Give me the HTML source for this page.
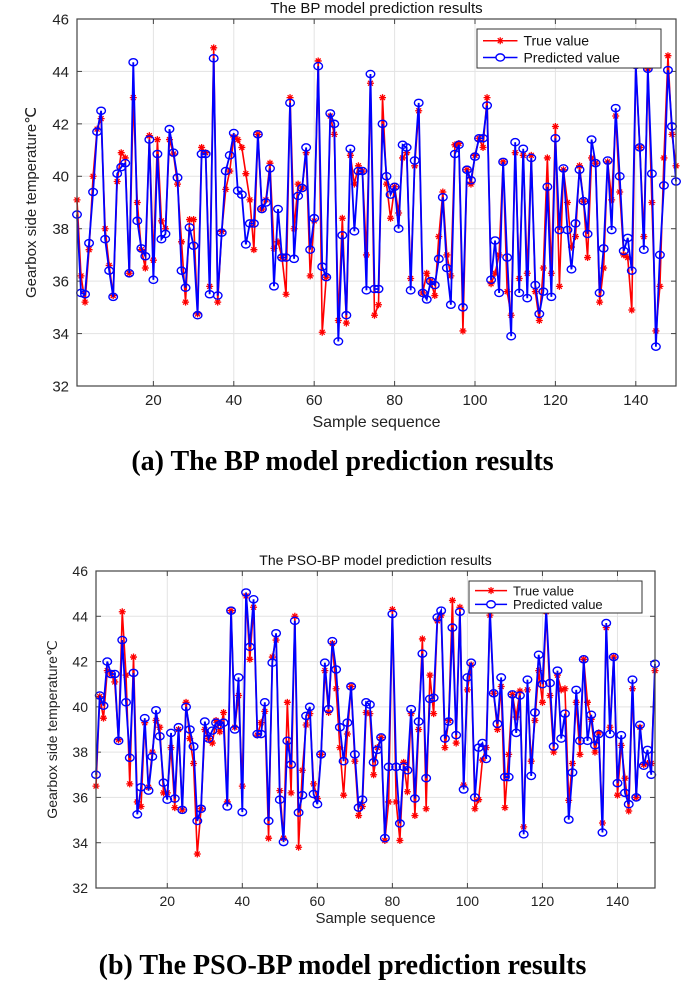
<!DOCTYPE html>
<html><head><meta charset="utf-8">
<style>
html,body{margin:0;padding:0;background:#fff;}
body{width:685px;height:985px;overflow:hidden;position:relative;font-family:"Liberation Sans",sans-serif;}
svg{position:absolute;left:0;top:0;}
.cap{position:absolute;left:0;width:685px;text-align:center;font-family:"Liberation Serif",serif;font-weight:bold;font-size:28px;color:#000;}
</style></head>
<body>
<svg id="chart" width="685" height="985" viewBox="0 0 685 985"></svg>
<div class="cap" style="top:446px">(a) The BP model prediction results</div>
<div class="cap" style="top:950px">(b) The PSO-BP model prediction results</div>
<script>
const yTicks = [32,34,36,38,40,42,44,46];
const xTicks = [20,40,60,80,100,120,140];
const bpTrue = [39.1,36.2,35.2,37.2,40.0,41.8,42.2,38.0,36.6,35.45,39.8,40.9,40.7,36.3,43.0,39.0,37.2,36.5,41.55,36.8,41.4,38.3,38.0,41.4,40.85,39.7,37.5,35.2,38.35,38.35,34.75,41.1,40.9,35.8,44.9,35.2,37.9,39.5,40.2,41.5,41.4,41.1,40.1,39.1,37.2,41.6,38.75,39.1,40.5,37.25,37.5,36.9,35.5,43.0,38.0,39.7,39.55,40.9,36.2,38.3,44.4,34.05,36.15,42.3,41.6,34.5,38.4,34.4,40.8,39.7,40.4,40.2,37.0,43.55,34.7,35.1,43.0,39.7,38.4,39.6,38.6,40.7,40.9,36.1,40.4,42.5,35.55,36.3,36.0,35.45,37.7,39.4,37.0,36.2,41.2,41.25,34.1,40.25,39.7,40.8,41.45,41.1,43.0,35.9,36.3,37.0,40.55,35.6,34.7,40.9,36.1,40.8,36.3,40.8,35.6,34.5,36.5,40.7,36.3,41.9,35.8,40.25,39.0,37.3,37.7,40.4,39.05,36.9,40.7,40.5,35.2,36.5,40.55,39.1,42.3,39.4,37.0,36.9,34.9,44.2,41.1,37.7,44.1,39.0,34.1,35.8,40.7,44.6,41.6,40.4];
const bpPred = [38.54,35.55,35.5,37.45,39.4,41.7,42.5,37.6,36.4,35.4,40.1,40.35,40.5,36.3,44.35,38.3,37.25,36.95,41.4,36.05,40.85,37.6,37.8,41.8,40.9,39.95,36.4,35.75,38.05,37.35,34.7,40.85,40.85,35.5,44.5,35.45,37.85,40.2,40.8,41.65,39.45,39.3,37.4,38.2,38.2,41.6,38.75,39.0,40.3,35.8,38.75,36.9,36.9,42.8,36.85,39.25,39.55,41.1,37.2,38.4,44.2,36.55,36.15,42.4,42.0,33.7,37.75,34.7,41.05,37.9,40.2,40.2,35.65,43.9,35.7,35.7,42.0,40.0,39.3,39.6,38.0,41.2,41.1,35.65,40.6,42.8,35.55,35.3,36.0,35.85,36.85,39.2,36.5,35.1,40.85,41.2,35.0,40.25,39.85,40.75,41.45,41.45,42.7,36.05,37.55,35.55,40.55,36.9,33.9,41.3,35.55,41.05,35.35,40.7,35.85,34.75,35.6,39.6,35.4,41.45,37.95,40.3,37.95,36.45,38.2,40.25,39.05,37.8,41.4,40.5,35.55,37.25,40.6,37.95,42.6,40.0,37.15,37.65,36.4,44.25,41.1,37.2,44.1,40.1,33.5,37.0,39.65,44.05,41.9,39.8];
const psoTrue = [36.5,40.45,39.5,41.6,41.45,41.1,38.55,44.2,41.4,36.6,42.2,35.8,35.6,39.3,36.45,38.0,39.4,39.1,36.2,36.2,38.2,35.55,39.0,35.45,40.2,38.6,37.5,33.5,35.5,39.0,38.6,38.4,39.4,38.9,39.75,35.8,44.25,39.1,40.5,36.5,44.9,42.1,44.4,38.75,39.3,39.8,34.2,42.2,42.95,36.3,34.2,40.2,36.2,44.0,33.8,37.2,39.2,39.7,36.6,35.95,37.9,41.6,39.75,42.8,40.8,38.2,36.1,38.8,40.9,37.6,35.2,35.6,39.75,39.7,37.0,38.2,38.65,34.1,35.8,44.3,35.8,34.1,37.55,36.25,39.7,35.2,39.0,43.0,35.5,41.4,39.7,43.8,44.05,38.2,39.4,44.7,38.4,44.4,36.55,40.75,41.85,35.5,35.9,37.65,38.2,44.05,40.6,39.0,40.9,35.55,37.9,40.55,39.55,40.7,34.7,40.75,37.6,39.4,41.6,40.2,44.2,40.5,38.0,41.4,40.75,40.8,35.87,37.5,40.2,37.9,42.1,40.2,39.45,38.0,38.85,34.87,43.5,39.1,42.2,36.1,38.3,36.85,35.4,40.8,36.0,39.1,37.45,37.5,37.5,41.6];
const psoPred = [37.0,40.5,40.05,42.0,41.45,41.45,38.5,42.95,40.2,37.75,41.5,35.25,36.45,39.5,36.3,37.8,39.85,38.7,36.65,35.9,38.85,35.95,39.1,35.45,40.0,39.0,38.25,34.96,35.5,39.35,38.6,38.95,39.3,39.2,39.3,35.6,44.25,39.0,41.3,35.35,45.05,42.65,44.75,38.8,38.8,40.2,34.96,41.95,43.25,35.9,34.03,38.5,37.45,43.8,35.33,36.1,39.6,40.0,36.15,35.7,37.9,41.95,39.9,42.9,41.65,39.1,37.6,39.3,40.9,37.9,35.55,35.9,40.2,40.1,37.55,38.1,38.65,34.2,37.35,44.1,37.35,34.85,37.35,37.2,39.9,35.95,39.35,42.35,36.85,40.35,40.4,43.95,44.25,38.6,39.35,43.5,38.75,44.2,36.35,41.3,41.95,36.0,38.2,38.4,37.7,44.3,40.6,39.25,41.3,36.9,36.9,40.55,38.85,40.5,34.37,41.2,36.95,39.75,42.3,41.0,44.3,41.05,38.25,41.6,38.6,39.7,35.02,37.1,40.75,38.5,42.1,38.5,39.65,38.3,38.8,34.45,43.7,38.8,42.2,36.63,38.75,36.2,35.7,41.2,36.0,39.2,37.4,38.1,37.0,41.9];

const NS='http://www.w3.org/2000/svg';
const svg=document.getElementById('chart');
function mk(tag,attrs,parent){const e=document.createElementNS(NS,tag);for(const k in attrs)e.setAttribute(k,attrs[k]);(parent||svg).appendChild(e);return e;}

function drawChart(cfg, trueVals, predVals){
  const g=mk('g',{});
  
  
  const xs=i=>cfg.x0+(i-1)*(cfg.x1-cfg.x0)/149;
  const ys=v=>cfg.y0+(46-v)*(cfg.y1-cfg.y0)/14;
  // grid
  yTicks.forEach(t=>{
    if(t>32&&t<46){const l=mk('line',{x1:cfg.x0,x2:cfg.x1,y1:ys(t),y2:ys(t),stroke:'#e3e3e3','stroke-width':1},g);
    
    }
    const tx=mk('text',{x:cfg.x0-8,y:ys(t)+cfg.fs*0.36,'text-anchor':'end','font-size':cfg.fs,fill:'#222'},g);
    tx.textContent=t;
    
    
    mk('line',{x1:cfg.x0,x2:cfg.x0+5,y1:ys(t),y2:ys(t),stroke:'#444'},g);
    mk('line',{x1:cfg.x1,x2:cfg.x1-5,y1:ys(t),y2:ys(t),stroke:'#444'},g);
  });
  xTicks.forEach(t=>{
    const l=mk('line',{x1:xs(t),x2:xs(t),y1:cfg.y0,y2:cfg.y1,stroke:'#e3e3e3','stroke-width':1},g);
    
    
    mk('line',{x1:xs(t),x2:xs(t),y1:cfg.y1,y2:cfg.y1-5,stroke:'#444'},g);
    mk('line',{x1:xs(t),x2:xs(t),y1:cfg.y0,y2:cfg.y0+5,stroke:'#444'},g);
    const tx=mk('text',{x:xs(t),y:cfg.y1+cfg.fs+4,'text-anchor':'middle','font-size':cfg.fs,fill:'#222'},g);
    tx.textContent=t;
    
    
  });
  // series lines
  const ptsT=trueVals.map((v,i)=>xs(i+1)+','+ys(v)).join(' ');
  const ptsP=predVals.map((v,i)=>xs(i+1)+','+ys(v)).join(' ');
  const lt=mk('polyline',{points:ptsT,fill:'none',stroke:'#ff0000','stroke-width':1.6},g);
  
  
  trueVals.forEach((v,i)=>{
    const x=xs(i+1),y=ys(v),r=3.5;
    const m=mk('path',{d:`M${x-r},${y}H${x+r}M${x},${y-r}V${y+r}M${x-r*0.7},${y-r*0.7}L${x+r*0.7},${y+r*0.7}M${x-r*0.7},${y+r*0.7}L${x+r*0.7},${y-r*0.7}`,stroke:'#ff0000','stroke-width':1.3,fill:'none'},g);
    
    
  });
  const lp=mk('polyline',{points:ptsP,fill:'none',stroke:'#0000ff','stroke-width':1.8},g);
  
  
  predVals.forEach((v,i)=>{
    const m=mk('ellipse',{cx:xs(i+1),cy:ys(v),rx:4.3,ry:3.6,stroke:'#0000ff','stroke-width':1.4,fill:'none'},g);
    
    
  });
  // frame
  const fr=mk('rect',{x:cfg.x0,y:cfg.y0,width:cfg.x1-cfg.x0,height:cfg.y1-cfg.y0,fill:'none',stroke:'#444','stroke-width':1.2},g);
  
  
  // title
  const ti=mk('text',{x:(cfg.x0+cfg.x1)/2,y:cfg.y0-6,'text-anchor':'middle','font-size':cfg.fs,fill:'#111'},g);
  ti.textContent=cfg.title;
  
  
  const xl=mk('text',{x:(cfg.x0+cfg.x1)/2,y:cfg.xlabY,'text-anchor':'middle','font-size':cfg.fs+1,fill:'#222'},g);
  xl.textContent='Sample sequence';
  
  
  const yl=mk('text',{x:0,y:0,'text-anchor':'middle','font-size':cfg.fs,fill:'#222',transform:`translate(${cfg.ylabX},${(cfg.y0+cfg.y1)/2}) rotate(-90)`},g);
  yl.textContent='Gearbox side temperature℃';
  
  
  // legend
  const L=cfg.leg;
  const lg=mk('g',{},g);
  
  
  mk('rect',{x:L.x,y:L.y,width:L.w,height:L.h,fill:'#fff',stroke:'#333','stroke-width':1},lg);
  const r1=L.y+L.h*0.3,r2=L.y+L.h*0.73,lx0=L.x+6,lx1=L.x+L.w*0.22,mx=(lx0+lx1)/2;
  mk('line',{x1:lx0,x2:lx1,y1:r1,y2:r1,stroke:'#f00','stroke-width':1.5},lg);
  mk('path',{d:`M${mx-3.5},${r1}H${mx+3.5}M${mx},${r1-3.5}V${r1+3.5}M${mx-2.5},${r1-2.5}L${mx+2.5},${r1+2.5}M${mx-2.5},${r1+2.5}L${mx+2.5},${r1-2.5}`,stroke:'#f00','stroke-width':1.3},lg);
  mk('line',{x1:lx0,x2:lx1,y1:r2,y2:r2,stroke:'#00f','stroke-width':1.5},lg);
  mk('ellipse',{cx:mx,cy:r2,rx:4.3,ry:3.6,stroke:'#00f','stroke-width':1.4,fill:'#fff'},lg);
  const t1=mk('text',{x:lx1+6,y:r1+cfg.lfs*0.36,'font-size':cfg.lfs,fill:'#111'},lg);t1.textContent='True value';
  
  
  const t2=mk('text',{x:lx1+6,y:r2+cfg.lfs*0.36,'font-size':cfg.lfs,fill:'#111'},lg);t2.textContent='Predicted value';
  
  
}
drawChart({id:'bp',x0:77,x1:676,y0:19,y1:386,fs:15,title:'The BP model prediction results',xlabY:427,ylabX:36,
  leg:{x:477,y:29,w:184,h:39},lfs:14},bpTrue,bpPred);
drawChart({id:'pso-bp',x0:96,x1:655,y0:571,y1:888,fs:14,title:'The PSO-BP model prediction results',xlabY:923,ylabX:57,
  leg:{x:469,y:581,w:173,h:32},lfs:13},psoTrue,psoPred);
</script>
</body></html>
